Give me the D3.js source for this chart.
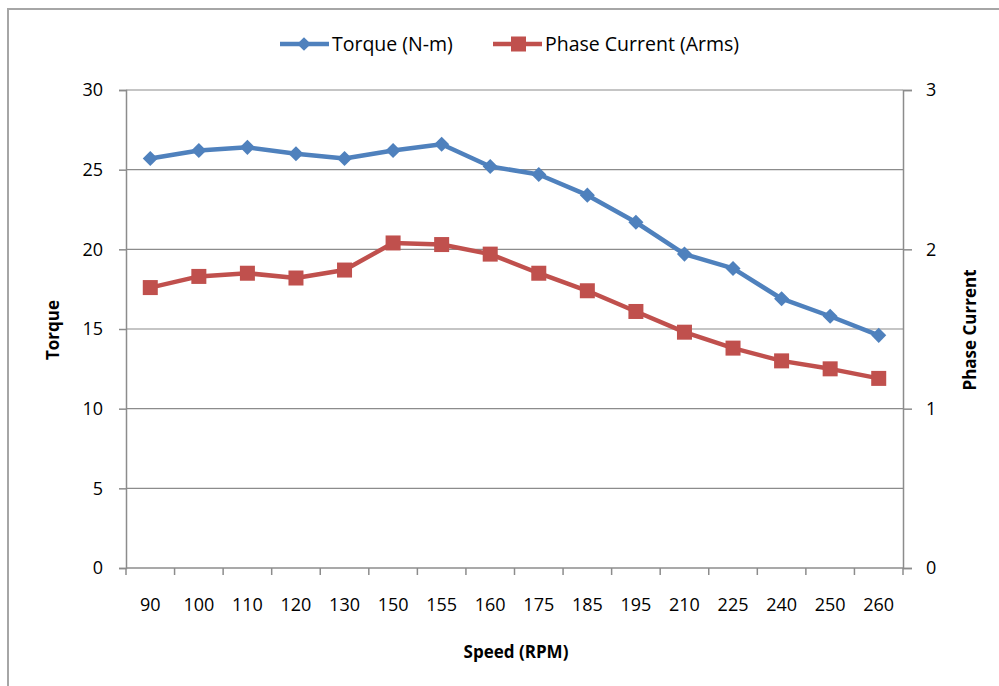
<!DOCTYPE html>
<html>
<head>
<meta charset="utf-8">
<script src="https://cdn.jsdelivr.net/npm/d3@7"></script>
<style>
  html, body { margin: 0; padding: 0; background: #fff; }
  svg { display: block; }
  text { font-family: "Open Sans", "Liberation Sans", sans-serif; fill: #000; }
</style>
</head>
<body>
<svg id="chart" width="999" height="686"></svg>
<script>
// Motor speed sweep: torque and phase current per speed step
const speeds = ["90", "100", "110", "120", "130", "150", "155", "160", "175", "185", "195", "210", "225", "240", "250", "260"];
const torque = [25.7, 26.2, 26.4, 26.0, 25.7, 26.2, 26.6, 25.2, 24.7, 23.4, 21.7, 19.7, 18.8, 16.9, 15.8, 14.6];
const phaseCurrent = [1.76, 1.83, 1.85, 1.82, 1.87, 2.04, 2.03, 1.97, 1.85, 1.74, 1.61, 1.48, 1.38, 1.30, 1.25, 1.19];
const torqueTicks = [0, 5, 10, 15, 20, 25, 30];
const currentTicks = [0, 1, 2, 3];

const svg = d3.select("#chart");
const m = { left: 126, right: 903, top: 90, bottom: 568 };
const blue = "#4F81BD", red = "#C0504D", grid = "#8c8c8c";

// outer chart frame
svg.append("path")
  .attr("d", "M8,686 V9 H999")
  .attr("fill", "none").attr("stroke", "#a6a6a6").attr("stroke-width", 2);

const x = d3.scaleBand().domain(speeds).range([m.left, m.right]);
const yL = d3.scaleLinear().domain([0, 30]).range([m.bottom, m.top]);
const yR = d3.scaleLinear().domain([0, 3]).range([m.bottom, m.top]);

// horizontal gridlines
svg.append("g").selectAll("line").data(torqueTicks.filter(d => d > 0)).join("line")
  .attr("x1", m.left).attr("x2", m.right)
  .attr("y1", d => yL(d)).attr("y2", d => yL(d))
  .attr("stroke", grid).attr("stroke-width", 1.2);

// left axis
const gL = svg.append("g").attr("transform", `translate(${m.left},0)`)
  .call(d3.axisLeft(yL).tickValues(torqueTicks).tickSize(7).tickPadding(16));
// right axis
const gR = svg.append("g").attr("transform", `translate(${m.right},0)`)
  .call(d3.axisRight(yR).tickValues(currentTicks).tickSize(9).tickPadding(14).tickFormat(d3.format("d")));
// bottom axis with ticks on category boundaries
const gB = svg.append("g").attr("transform", `translate(0,${m.bottom})`)
  .call(d3.axisBottom(x).tickSize(0).tickPadding(30));
gB.selectAll(".bound").data(speeds.concat([null])).join("line")
  .attr("class", "bound")
  .attr("x1", (d, i) => m.left + i * x.bandwidth())
  .attr("x2", (d, i) => m.left + i * x.bandwidth())
  .attr("y1", 0).attr("y2", 7)
  .attr("stroke", grid).attr("stroke-width", 1.5);

[gL, gR, gB].forEach(g => {
  g.select(".domain").attr("stroke", grid).attr("stroke-width", 1.5);
  g.selectAll(".tick line").attr("stroke", grid).attr("stroke-width", 1.5);
  g.selectAll(".tick text").attr("font-size", 18).attr("fill", "#000")
    .style("font-family", "'Open Sans', sans-serif");
});
gB.select(".domain").attr("d", `M${m.left},0H${m.right}`);

// axis titles
svg.append("text").attr("transform", `translate(59,330) rotate(-90)`)
  .attr("text-anchor", "middle").attr("font-size", 17).attr("font-weight", "bold").text("Torque");
svg.append("text").attr("transform", `translate(976,330) rotate(-90)`)
  .attr("text-anchor", "middle").attr("font-size", 17).attr("font-weight", "bold").text("Phase Current");
svg.append("text").attr("x", 516).attr("y", 658)
  .attr("text-anchor", "middle").attr("font-size", 17).attr("font-weight", "bold").text("Speed (RPM)");

const cx = d => x(d) + x.bandwidth() / 2;

// torque series
svg.append("path").datum(torque)
  .attr("fill", "none").attr("stroke", blue).attr("stroke-width", 4.5).attr("stroke-linejoin", "round")
  .attr("d", d3.line().x((d, i) => cx(speeds[i])).y(d => yL(d)));
svg.append("g").selectAll("path").data(torque).join("path")
  .attr("d", d3.symbol(d3.symbolDiamond2, 145)())
  .attr("transform", (d, i) => `translate(${cx(speeds[i])},${yL(d)})`)
  .attr("fill", blue);

// phase current series
svg.append("path").datum(phaseCurrent)
  .attr("fill", "none").attr("stroke", red).attr("stroke-width", 4.5).attr("stroke-linejoin", "round")
  .attr("d", d3.line().x((d, i) => cx(speeds[i])).y(d => yR(d)));
svg.append("g").selectAll("rect").data(phaseCurrent).join("rect")
  .attr("x", (d, i) => cx(speeds[i]) - 7.5).attr("y", d => yR(d) - 7.5)
  .attr("width", 15).attr("height", 15).attr("fill", red);

// legend
const legend = [
  { name: "Torque (N-m)", color: blue, shape: "diamond", x: 280 },
  { name: "Phase Current (Arms)", color: red, shape: "square", x: 493 }
];
const lg = svg.append("g").selectAll("g").data(legend).join("g")
  .attr("transform", d => `translate(${d.x},44)`);
lg.append("line").attr("x1", 0).attr("x2", 49).attr("stroke", d => d.color).attr("stroke-width", 4.5);
lg.filter(d => d.shape === "diamond").append("path")
  .attr("d", d3.symbol(d3.symbolDiamond2, 120)())
  .attr("transform", "translate(24,0)").attr("fill", d => d.color);
lg.filter(d => d.shape === "square").append("rect")
  .attr("x", 18).attr("y", -7.5).attr("width", 15).attr("height", 15).attr("fill", d => d.color);
lg.append("text").attr("x", 52).attr("y", 7).attr("font-size", 19.5).text(d => d.name);
</script>
</body>
</html>
